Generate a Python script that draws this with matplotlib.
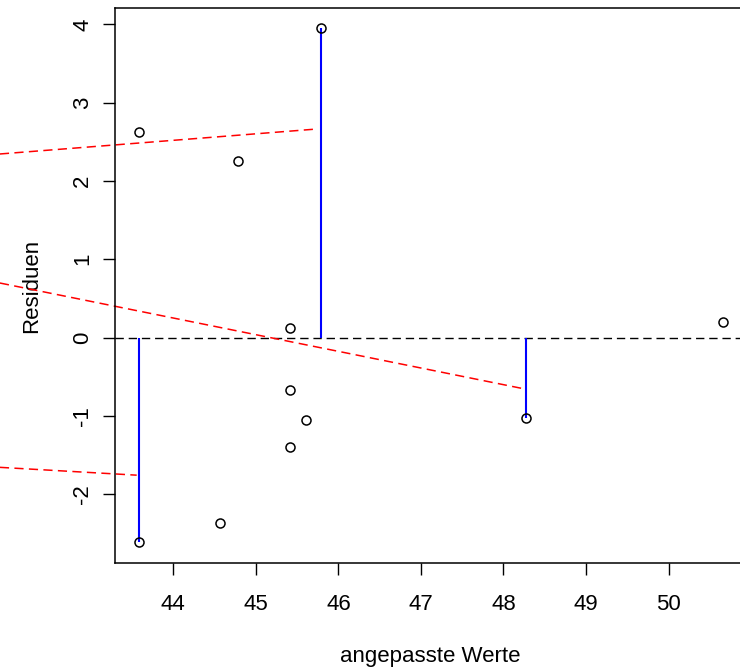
import matplotlib
matplotlib.use('Agg')
import matplotlib.pyplot as plt

plt.rcParams['font.family'] = ['Liberation Sans', 'DejaVu Sans']
plt.rcParams['axes.unicode_minus'] = False

# fitted values and residuals
fitted = [43.58, 44.57, 44.79, 45.41, 45.41, 45.41, 45.61, 45.79, 48.27, 50.66]
resid = [-2.615, -2.37, 2.26, 0.125, -0.67, -1.395, -1.054, 3.95, -1.024, 0.194]

# blue residual segments (x, residual)
seg_x = [43.58, 45.79, 48.27]
seg_y = [-2.615, 3.95, -1.024]

# red dashed lines: start/end points
red_x0 = [41.9, 41.9, 41.9]
red_y0 = [2.344, 0.696, -1.658]
red_x1 = [45.74, 48.22, 43.557]
red_y1 = [2.663, -0.649, -1.758]

# the point at the top left that sits on no segment
extra_x = [43.58]
extra_y = [2.62]

fig = plt.figure(figsize=(7.4, 6.69), dpi=100)
ax = fig.add_axes([0.1554, 0.1584, 1.0068 - 0.1554, 0.988 - 0.1584])

ax.axhline(0, color='black', lw=1.0, dashes=(6, 3.5))

for x, y in zip(seg_x, seg_y):
    ax.plot([x, x], [0, y], color='blue', lw=1.5, solid_capstyle='butt')

for x0, y0, x1, y1 in zip(red_x0, red_y0, red_x1, red_y1):
    ax.plot([x0, x1], [y0, y1], color='red', lw=1.1, dashes=(6, 3.5), clip_on=False)

ax.plot(fitted + extra_x, resid + extra_y, 'o', mfc='none', mec='black', ms=6.5, mew=1.1,
        clip_on=False)

ax.set_xlim(43.294, 50.926)
ax.set_ylim(-2.88, 4.208)
ax.set_xticks([44, 45, 46, 47, 48, 49, 50])
ax.set_yticks([-2, -1, 0, 1, 2, 3, 4])
for lab in ax.get_yticklabels():
    lab.set_rotation(90)
    lab.set_va('center')
ax.tick_params(axis='both', labelsize=16, length=8.6, width=1.0, direction='out')
ax.tick_params(axis='x', pad=14)
ax.tick_params(axis='y', pad=7)
for s in ax.spines.values():
    s.set_linewidth(1.1)

ax.set_xlabel('angepasste Werte', fontsize=16)
ax.set_ylabel('Residuen', fontsize=16)
ax.xaxis.set_label_coords(0.5, -0.1693)
ax.xaxis.label.set_va('center')
ax.yaxis.set_label_coords(-0.1318, 0.5)
ax.yaxis.label.set_va('center')

fig.savefig('out.png', dpi=100)
